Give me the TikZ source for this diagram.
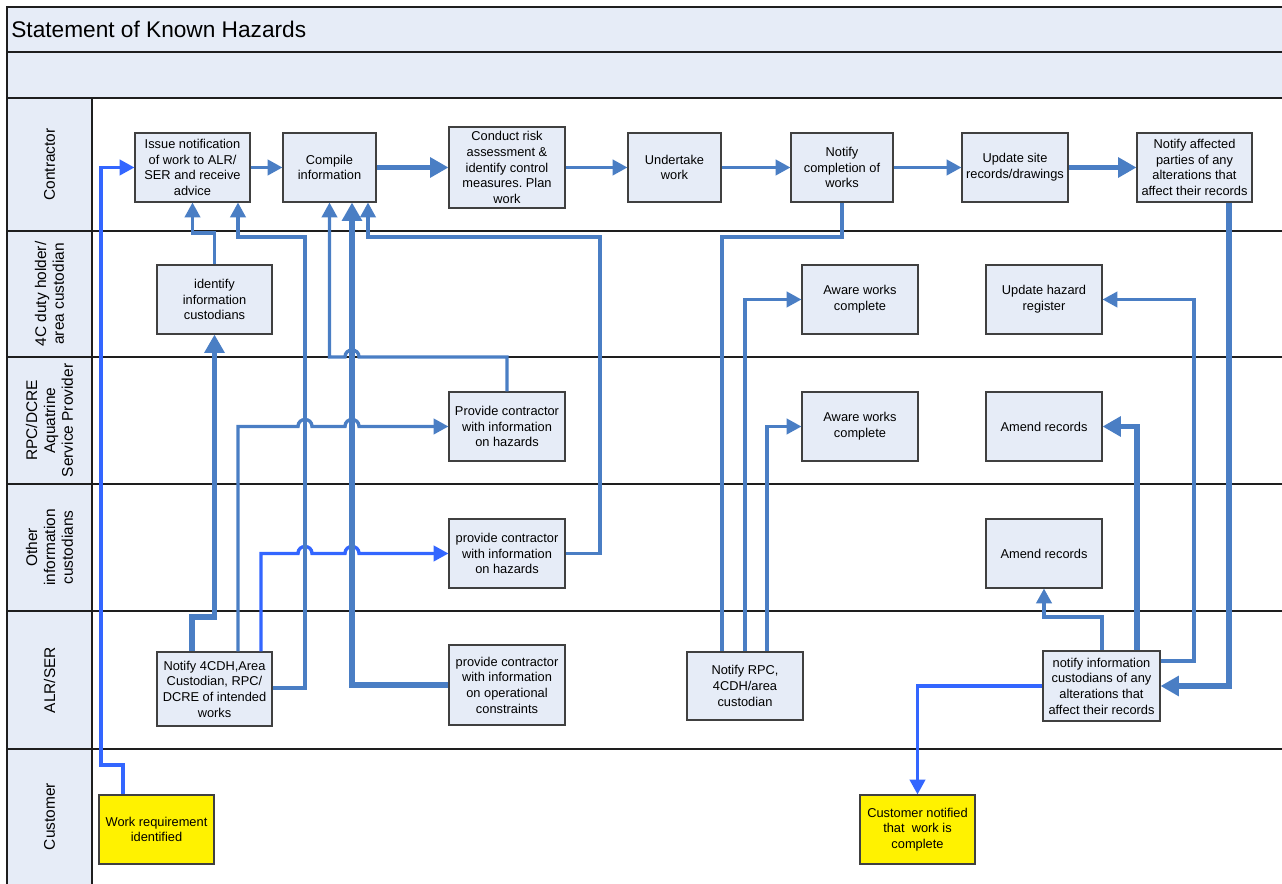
\documentclass[tikz,border=0pt]{standalone}
\usepackage{fontspec}
\setmainfont{Liberation Sans}
\usetikzlibrary{arrows.meta}
\definecolor{lnblue}{RGB}{74,126,196}
\definecolor{brblue}{RGB}{51,102,255}
\definecolor{boxfill}{RGB}{230,236,247}
\definecolor{bandfill}{RGB}{230,236,247}
\definecolor{boxdraw}{RGB}{64,64,64}
\definecolor{laneline}{RGB}{30,30,30}
\frenchspacing
\begin{document}
\begin{tikzpicture}[x=0.02cm,y=-0.02cm,
  box/.style={draw=boxdraw, line width=0.6pt, fill=boxfill, inner sep=0pt, align=center,
              font=\fontsize{7.3}{8.9}\selectfont},
  ybox/.style={box, fill=yellow},
  lanelbl/.style={rotate=90, align=center, inner sep=0pt, font=\fontsize{8.8}{10.2}\selectfont},
  ln/.style={draw=lnblue, line width=1.9pt},
  thk/.style={draw=lnblue, line width=3.0pt},
  brt/.style={draw=brblue, line width=1.9pt},
  tip/.style={-{Triangle[length=8.4pt,width=8.6pt]}},
  btip/.style={-{Triangle[length=10.4pt,width=11pt]}},
  band/.style={draw=laneline, line width=0.7pt, fill=bandfill},
  sep/.style={draw=laneline, line width=0.7pt}
]
\useasboundingbox (0,0) rectangle (1282,884);
% ---- frame and bands
\path[band] (7,7) rectangle (1290,52);
\path[band] (7,52) rectangle (1290,98);
\foreach \ya/\yb in {98/231,231/357,357/484,484/611,611/749,749/890}{
  \path[band] (7,\ya) rectangle (92,\yb);
  \draw[sep] (92,\yb) -- (1290,\yb);
}
\node[anchor=west, inner sep=0pt, font=\fontsize{12.9}{15}\selectfont] (title) at (11,29.5) {Statement of Known Hazards};
% ---- lane labels
\node[lanelbl] (hC)  at (49.5,164.5) {Contractor};
\node[lanelbl] (h4C) at (49.5,294)   {4C duty holder/\\area custodian};
\node[lanelbl] (hR)  at (49.5,420.5) {RPC/DCRE\\Aquatrine\\Service Provider};
\node[lanelbl] (hO)  at (49.5,547.5) {Other\\information\\custodians};
\node[lanelbl] (hA)  at (49.5,680)   {ALR/SER};
\node[lanelbl] (hCu) at (49.5,816.5) {Customer};
% ---- contractor lane
\node[box, minimum width=2.30cm, minimum height=1.38cm] (iss)   at (192.5,167.5) {Issue notification\\of work to ALR/\\SER and receive\\advice};
\node[box, minimum width=1.86cm, minimum height=1.38cm] (comp)  at (329.5,167.5) {Compile\\information};
\node[box, minimum width=2.32cm, minimum height=1.62cm] (risk)  at (507,167.5) {Conduct risk\\assessment \&\\identify control\\measures. Plan\\work};
\node[box, minimum width=1.86cm, minimum height=1.38cm] (und)   at (674.5,167.5) {Undertake\\work};
\node[box, minimum width=2.04cm, minimum height=1.38cm] (ncomp) at (842,167.5) {Notify\\completion of\\works};
\node[box, minimum width=2.12cm, minimum height=1.38cm] (upd)   at (1015,167.5) {Update site\\records/drawings};
\node[box, minimum width=2.30cm, minimum height=1.38cm] (naff)  at (1194.5,167.5) {Notify affected\\parties of any\\alterations that\\affect their records};
% ---- 4C lane
\node[box, minimum width=2.30cm, minimum height=1.38cm] (ident) at (214.5,299.5) {identify\\information\\custodians};
\node[box, minimum width=2.32cm, minimum height=1.38cm] (aw1)   at (860,299.5) {Aware works\\complete};
\node[box, minimum width=2.32cm, minimum height=1.38cm] (haz)   at (1044,299.5) {Update hazard\\register};
% ---- RPC lane
\node[box, minimum width=2.32cm, minimum height=1.38cm] (prov1) at (507,426.5) {Provide contractor\\with information\\on hazards};
\node[box, minimum width=2.32cm, minimum height=1.38cm] (aw2)   at (860,426.5) {Aware works\\complete};
\node[box, minimum width=2.32cm, minimum height=1.38cm] (am1)   at (1044,426.5) {Amend records};
% ---- other lane
\node[box, minimum width=2.32cm, minimum height=1.38cm] (prov2) at (507,553.5) {provide contractor\\with information\\on hazards};
\node[box, minimum width=2.32cm, minimum height=1.38cm] (am2)   at (1044,553.5) {Amend records};
% ---- ALR lane
\node[box, minimum width=2.30cm, minimum height=1.48cm] (n4)    at (214.5,689) {Notify 4CDH,Area\\Custodian, RPC/\\DCRE of intended\\works};
\node[box, minimum width=2.32cm, minimum height=1.60cm] (prov3) at (507,685) {provide contractor\\with information\\on operational\\constraints};
\node[box, minimum width=2.32cm, minimum height=1.36cm] (nrpc)  at (745,686) {Notify RPC,\\4CDH/area\\custodian};
\node[box, minimum width=2.34cm, minimum height=1.40cm] (ninf)  at (1101.5,686) {notify information\\custodians of any\\alterations that\\affect their records};
% ---- customer lane
\node[ybox, minimum width=2.30cm, minimum height=1.38cm] (wreq) at (156.5,829.5) {Work requirement\\identified};
\node[ybox, minimum width=2.30cm, minimum height=1.38cm] (cust) at (917.5,829.5) {Customer notified\\that\ \ work is\\complete};
% ---- connectors: contractor flow
\draw[brt,tip] (wreq.north -| 123,0) -- (123,765) -- (101,765) |- (iss.west);
\draw[ln,tip]  (iss.east) -- (comp.west);
\draw[thk,btip] (comp.east) -- (risk.west);
\draw[ln,tip]  (risk.east) -- (und.west);
\draw[ln,tip]  (und.east) -- (ncomp.west);
\draw[ln,tip]  (ncomp.east) -- (upd.west);
\draw[thk,btip] (upd.east) -- (naff.west);
% ---- left part
\draw[ln,tip]  (ident.north) -- (214.5,233) -| (iss.south);
\draw[thk,btip] (n4.north -| 192,0) -- (192,617) -| (ident.south);
\draw[ln,tip]  (n4.north -| 238,0) -- (238,426.5)
   -- (298,426.5) .. controls (298,417.2) and (312,417.2) .. (312,426.5)
   -- (345,426.5) .. controls (345,417.2) and (359,417.2) .. (359,426.5)
   -- (prov1.west);
\draw[brt,tip] (n4.north -| 261,0) -- (261,553.5)
   -- (298,553.5) .. controls (298,544.2) and (312,544.2) .. (312,553.5)
   -- (345,553.5) .. controls (345,544.2) and (359,544.2) .. (359,553.5)
   -- (prov2.west);
\draw[ln,tip]  (n4.east |- 0,688) -- (305,688) -- (305,237) -| (iss.south -| 238,0);
\draw[ln,tip]  (prov1.north) -- (507,357)
   -- (359,357) .. controls (359,347.7) and (345,347.7) .. (345,357)
   -- (329.5,357) -- (comp.south);
\draw[thk,btip] (prov3.west) -- (352,685) -- (comp.south -| 352,0);
\draw[ln,tip]  (prov2.east) -- (600,553.5) -- (600,237) -| (comp.south -| 368,0);
% ---- middle part
\draw[ln] (ncomp.south) -- (842,237) -- (722,237) -- (nrpc.north -| 722,0);
\draw[ln,tip] (nrpc.north) |- (aw1.west);
\draw[ln,tip] (nrpc.north -| 767,0) |- (aw2.west);
% ---- right part
\draw[thk,btip] (naff.south -| 1229,0) |- (ninf.east);
\draw[ln,tip]  (ninf.east |- 0,661) -- (1194,661) |- (haz.east);
\draw[thk,btip] (ninf.north -| 1137,0) |- (am1.east);
\draw[ln,tip]  (ninf.north -| 1102,0) -- (1102,617) -| (am2.south);
\draw[brt,tip] (ninf.west) -| (cust.north);
\end{tikzpicture}
\end{document}
